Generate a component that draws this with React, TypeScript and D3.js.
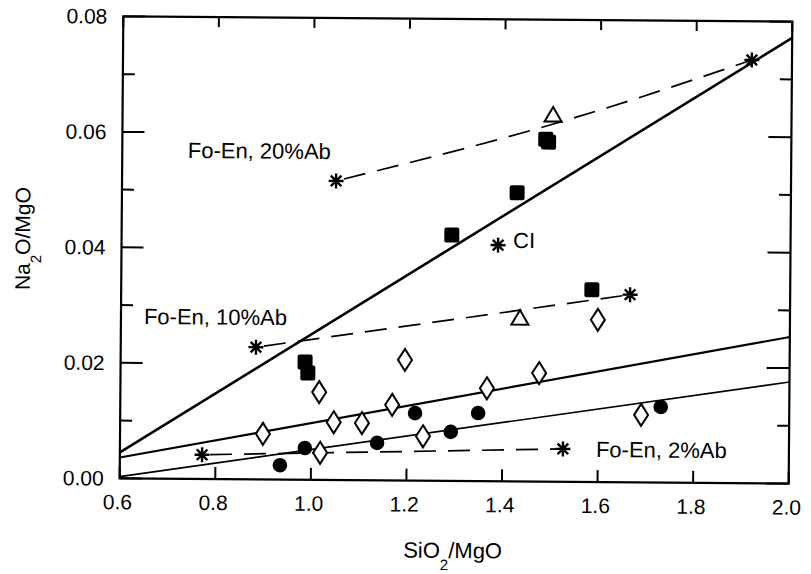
import React from "react";
import * as d3 from "d3";

// ---- data ----
const xTicks = [0.6, 0.8, 1.0, 1.2, 1.4, 1.6, 1.8, 2.0];
const yTicks = [0, 0.02, 0.04, 0.06, 0.08];
const yMinor = [0.01, 0.03, 0.05, 0.07];

const squares: [number, number][] = [
  [1.486, 0.0593], [1.492, 0.0588], [1.427, 0.05], [1.291, 0.0426],
  [1.585, 0.0333], [0.986, 0.0204], [0.992, 0.0185],
];
const triangles: [number, number][] = [[1.501, 0.0635], [1.435, 0.0283]];
const diamonds: [number, number][] = [
  [0.899, 0.0079], [1.016, 0.0152], [1.195, 0.0209], [1.047, 0.01],
  [1.106, 0.0099], [1.169, 0.0131], [1.367, 0.0161], [1.476, 0.0188],
  [1.598, 0.0281], [1.69, 0.0117], [1.234, 0.0077], [1.019, 0.0047],
];
const circles: [number, number][] = [
  [0.935, 0.0025], [0.987, 0.0055], [1.138, 0.0065], [1.217, 0.0117],
  [1.292, 0.0085], [1.349, 0.0118], [1.731, 0.0131],
];
const stars: [number, number][] = [
  [1.048, 0.0518], [1.916, 0.0733], [1.388, 0.0409],
  [0.883, 0.0229], [1.665, 0.0325], [0.772, 0.0042], [1.527, 0.0057],
];

const lineThick: [number, number][] = [[0.6, 0.0045], [2.0, 0.0772]];
const lineMid: [number, number][] = [[0.6, 0.0036], [2.0, 0.0254]];
const lineLow: [number, number][] = [[0.6, 0.0003], [2.0, 0.0176]];

const dash20: [number, number][] = [[1.048, 0.0518], [1.5, 0.0619], [1.916, 0.0733]];
const dash10: [number, number][] = [[0.883, 0.0229], [1.665, 0.0325]];
const dash2: [number, number][] = [[0.772, 0.0042], [1.527, 0.0057]];

const FONT = "'Liberation Sans', Arial, Helvetica, sans-serif";

export default function App() {
  const W = 811, H = 574;
  const left = 121.5, right = 790.5, top = 19, bottom = 481;
  const x = d3.scaleLinear().domain([0.6, 2.0]).range([left, right]);
  const y = d3.scaleLinear().domain([0, 0.08]).range([bottom, top]);
  const line = d3.line<[number, number]>().x((d) => x(d[0])).y((d) => y(d[1]));
  const curved = d3.line<[number, number]>().x((d) => x(d[0])).y((d) => y(d[1])).curve(d3.curveNatural);

  const starPath = (r: number) => {
    const d = r * 0.707;
    return `M${-r},0L${r},0M0,${-r}L0,${r}M${-d},${-d}L${d},${d}M${-d},${d}L${d},${-d}`;
  };

  return (
    <svg width={W} height={H} style={{ position: "absolute", left: 0, top: 0, background: "#fff" }}
      fontFamily={FONT}>
      <g transform="rotate(0.45 456 250)">
        {/* frame */}
        <rect x={left} y={top} width={right - left} height={bottom - top} fill="none" stroke="#000" strokeWidth={2.2} />
        {/* left / right ticks */}
        {yTicks.map((t) => (
          <g key={"yt" + t}>
            <line x1={left} x2={left + 22} y1={y(t)} y2={y(t)} stroke="#000" strokeWidth={2} />
            <line x1={right} x2={right - 23} y1={y(t)} y2={y(t)} stroke="#000" strokeWidth={2} />
            <text x={left - 16} y={y(t)} dy="0.35em" textAnchor="end" fontSize={21}>{t.toFixed(2)}</text>
          </g>
        ))}
        {yMinor.map((t) => (
          <g key={"ym" + t}>
            <line x1={left} x2={left + 12} y1={y(t)} y2={y(t)} stroke="#000" strokeWidth={2} />
            <line x1={right} x2={right - 12} y1={y(t)} y2={y(t)} stroke="#000" strokeWidth={2} />
          </g>
        ))}
        {/* bottom / top ticks */}
        {xTicks.map((t) => (
          <g key={"xt" + t}>
            <line x1={x(t)} x2={x(t)} y1={bottom} y2={bottom - 12} stroke="#000" strokeWidth={2} />
            <line x1={x(t)} x2={x(t)} y1={top} y2={top + 10} stroke="#000" strokeWidth={2} />
            <text x={x(t) - 2} y={bottom + 31} textAnchor="middle" fontSize={21}>{t.toFixed(1)}</text>
          </g>
        ))}

        {/* solid lines */}
        <path d={line(lineThick) || ""} fill="none" stroke="#000" strokeWidth={2.6} />
        <path d={line(lineMid) || ""} fill="none" stroke="#000" strokeWidth={2.1} />
        <path d={line(lineLow) || ""} fill="none" stroke="#000" strokeWidth={1.7} />

        {/* dashed lines */}
        {[dash20, dash10, dash2].map((dl, i) => (
          <path key={"dl" + i} d={(i === 0 ? curved(dl) : line(dl)) || ""} fill="none" stroke="#000"
            strokeWidth={1.7} strokeDasharray="22 12" strokeDashoffset={-8} />
        ))}

        {/* markers */}
        {squares.map((d, i) => (
          <rect key={"sq" + i} x={x(d[0]) - 7.5} y={y(d[1]) - 7.5} width={15} height={15} rx={2} fill="#000" />
        ))}
        {triangles.map((d, i) => {
          const cx = x(d[0]), cy = y(d[1]);
          return <path key={"tr" + i} d={`M${cx},${cy - 8}L${cx + 8.5},${cy + 6.5}L${cx - 8.5},${cy + 6.5}Z`}
            fill="#fff" stroke="#000" strokeWidth={2} />;
        })}
        {diamonds.map((d, i) => {
          const cx = x(d[0]), cy = y(d[1]);
          return <path key={"dm" + i} d={`M${cx},${cy - 11}L${cx + 7},${cy}L${cx},${cy + 11}L${cx - 7},${cy}Z`}
            fill="#fff" stroke="#000" strokeWidth={2} />;
        })}
        {circles.map((d, i) => (
          <circle key={"ci" + i} cx={x(d[0])} cy={y(d[1])} r={7.3} fill="#000" />
        ))}
        {stars.map((d, i) => (
          <path key={"st" + i} transform={`translate(${x(d[0])},${y(d[1])})`} d={starPath(7.5)}
            fill="none" stroke="#000" strokeWidth={2.4} />
        ))}

        {/* annotations */}
        <text x={187} y={160} fontSize={22}>Fo-En, 20%Ab</text>
        <text x={144.5} y={326.5} fontSize={22}>Fo-En, 10%Ab</text>
        <text x={597.5} y={456} fontSize={22}>Fo-En, 2%Ab</text>
        <text x={513} y={247.5} fontSize={22}>CI</text>

        {/* axis titles */}
        <text x={455} y={558} textAnchor="middle" fontSize={22}>
          SiO<tspan fontSize={15} dy={12}>2</tspan><tspan dy={-12}>/MgO</tspan>
        </text>
        <g transform="translate(30,242) rotate(-90)">
          <text x={0} y={0} textAnchor="middle" fontSize={21}>
            Na<tspan fontSize={15} dy={11}>2</tspan><tspan dy={-11}>O/MgO</tspan>
          </text>
        </g>
      </g>
    </svg>
  );
}
